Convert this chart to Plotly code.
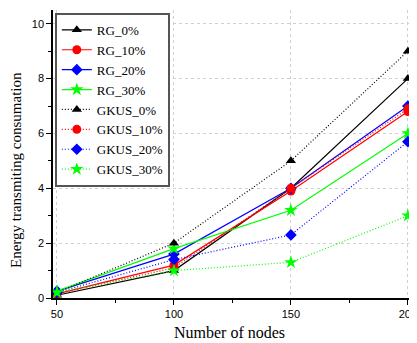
import plotly.graph_objects as go

nodes = [50, 100, 150, 200]
rg_0 = [0.1, 1.0, 4.0, 8.0]
rg_10 = [0.15, 1.2, 3.9, 6.8]
rg_20 = [0.25, 1.6, 4.0, 7.0]
rg_30 = [0.25, 1.8, 3.2, 6.0]
gkus_0 = [0.2, 2.0, 5.0, 9.0]
gkus_10 = [0.15, 1.1, 4.0, 6.9]
gkus_20 = [0.2, 1.4, 2.3, 5.7]
gkus_30 = [0.2, 1.0, 1.3, 3.0]

x_title = "Number of nodes"
y_title = "Energy transmiting consumation"

series = [
    ("RG_0%", rg_0, "black", "triangle-up", "solid"),
    ("RG_10%", rg_10, "red", "circle", "solid"),
    ("RG_20%", rg_20, "blue", "diamond", "solid"),
    ("RG_30%", rg_30, "#00ff00", "star", "solid"),
    ("GKUS_0%", gkus_0, "black", "triangle-up", "1px,2px"),
    ("GKUS_10%", gkus_10, "red", "circle", "1px,2px"),
    ("GKUS_20%", gkus_20, "blue", "diamond", "1px,2px"),
    ("GKUS_30%", gkus_30, "#00ff00", "star", "1px,2px"),
]

fig = go.Figure()
for name, vals, color, sym, dash in series:
    fig.add_trace(go.Scatter(
        x=nodes, y=vals, name=name, mode="lines+markers",
        line=dict(color=color, width=1.2, dash=dash),
        marker=dict(symbol=sym, size=10 if sym == "star" else 9, color=color),
        cliponaxis=False,
    ))

# the page body adds an 8px margin, so the figure is sized to the remaining area
fig.update_layout(
    width=409, height=335,
    margin=dict(l=45, r=0, t=2, b=45),
    plot_bgcolor="white", paper_bgcolor="white",
    font=dict(family="Liberation Sans", size=11, color="black"),
    legend=dict(
        x=0.005, y=0.99, xanchor="left", yanchor="top",
        bordercolor="#555555", borderwidth=2, bgcolor="white",
        font=dict(family="Liberation Serif", size=13, color="black"),
        tracegroupgap=0, itemwidth=30,
    ),
    showlegend=True,
    annotations=[
        dict(text=x_title, xref="paper", yref="paper", x=0.486, y=-0.1215,
             xanchor="center", yanchor="middle", showarrow=False,
             font=dict(family="Liberation Serif", size=16, color="black")),
        dict(text=y_title, xref="paper", yref="paper", x=-0.102, y=0.444,
             xanchor="center", yanchor="middle", showarrow=False, textangle=-90,
             font=dict(family="Liberation Serif", size=15, color="black")),
    ],
)
fig.update_xaxes(
    range=[48.3, 203.9], tickvals=[50, 100, 150, 200],
    showline=True, linecolor="black", linewidth=1.5,
    ticks="outside", ticklen=5, tickcolor="black", ticklabeloverflow="allow",
    showgrid=True, gridcolor="#d0d0d0", griddash="dot", gridwidth=1,
    minor=dict(tickvals=[75, 125, 175], ticks="outside", ticklen=3, tickcolor="black", showgrid=False),
    zeroline=False, automargin=False,
)
fig.update_yaxes(
    range=[0, 10.5], tickvals=[0, 2, 4, 6, 8, 10],
    showline=True, linecolor="black", linewidth=1.5,
    ticks="outside", ticklen=5, tickcolor="black",
    showgrid=True, gridcolor="#d0d0d0", griddash="dot", gridwidth=1,
    minor=dict(tickvals=[1, 3, 5, 7, 9], ticks="outside", ticklen=3, tickcolor="black", showgrid=False),
    zeroline=False, automargin=False,
)

fig.write_html("out.html")
